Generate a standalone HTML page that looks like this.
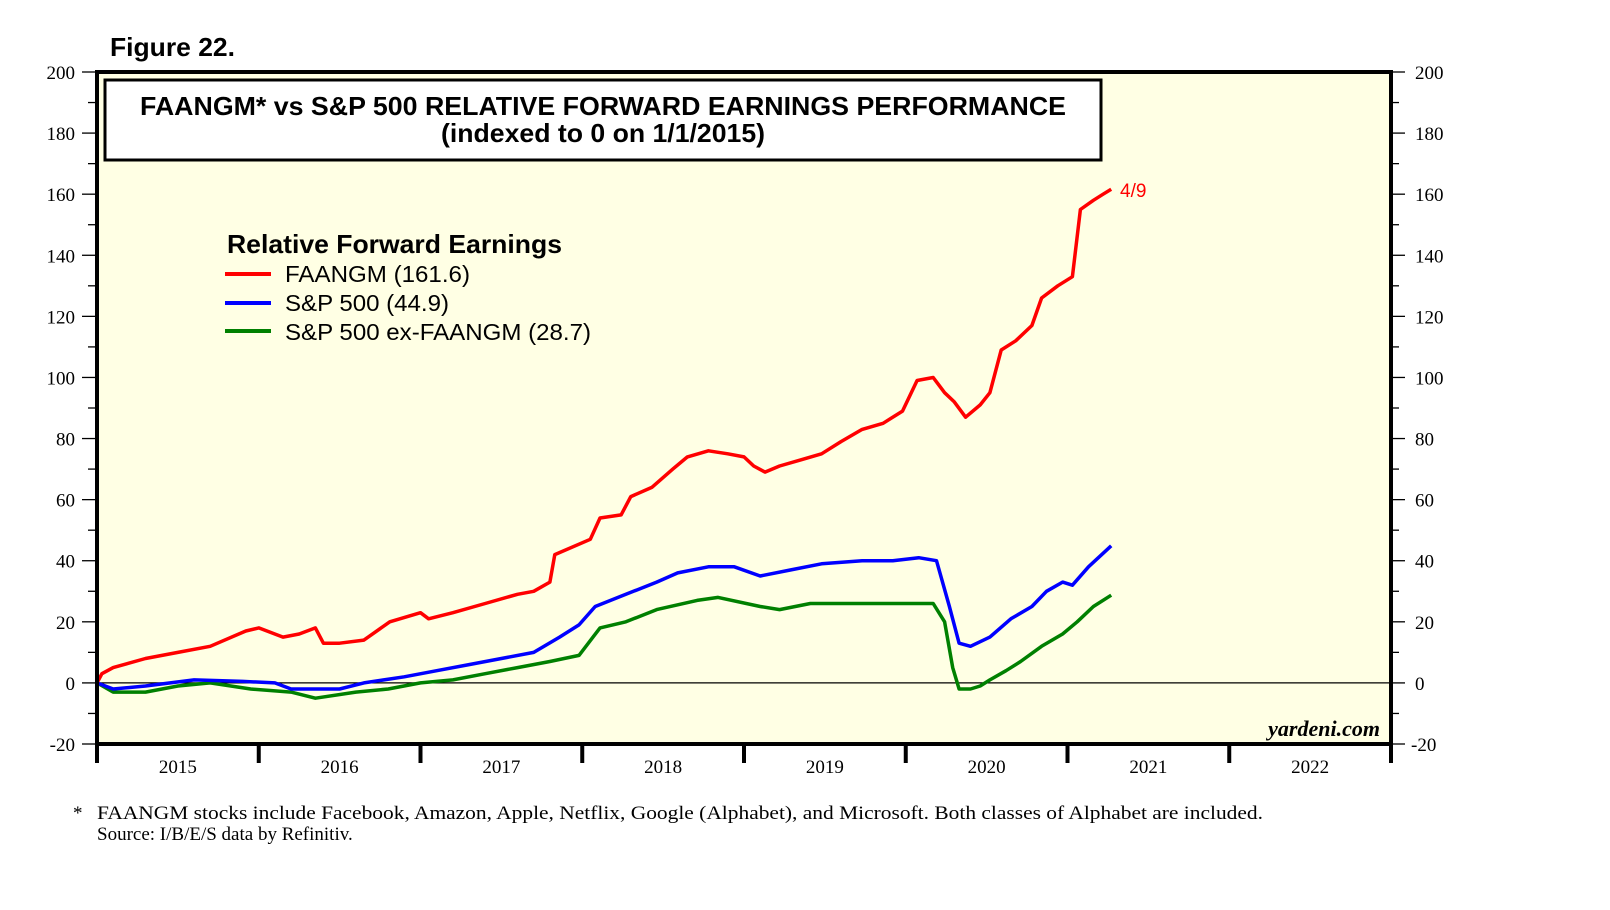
<!DOCTYPE html>
<html><head><meta charset="utf-8"><style>
html,body{margin:0;padding:0;background:#fff;}
svg{display:block;}
</style></head><body>
<svg width="1610" height="910" viewBox="0 0 1610 910" xmlns="http://www.w3.org/2000/svg">
<text x="110" y="56" font-family="Liberation Sans, sans-serif" font-weight="bold" font-size="26" textLength="125" lengthAdjust="spacingAndGlyphs">Figure 22.</text>
<rect x="97" y="72" width="1294" height="672" fill="#ffffe4"/>
<g id="grid"></g>
<line x1="97" x2="1391" id="zero" stroke="#000" stroke-width="1.3"/>
<g id="series"></g>
<rect x="97" y="72" width="1294" height="672" fill="none" stroke="#000" stroke-width="4"/>
<g id="axes"></g>
<rect x="105" y="80" width="996" height="80" fill="#fff" stroke="#000" stroke-width="3"/>
<text x="603" y="115" text-anchor="middle" font-family="Liberation Sans, sans-serif" font-weight="bold" font-size="26" textLength="926" lengthAdjust="spacingAndGlyphs">FAANGM* vs S&amp;P 500 RELATIVE FORWARD EARNINGS PERFORMANCE</text>
<text x="603" y="142" text-anchor="middle" font-family="Liberation Sans, sans-serif" font-weight="bold" font-size="26" textLength="324" lengthAdjust="spacingAndGlyphs">(indexed to 0 on 1/1/2015)</text>
<text x="227" y="253" font-family="Liberation Sans, sans-serif" font-weight="bold" font-size="26" textLength="335" lengthAdjust="spacingAndGlyphs">Relative Forward Earnings</text>
<g><line x1="225" x2="271" y1="274" y2="274" stroke="#ff0000" stroke-width="4"/><text x="285" y="282" font-family="Liberation Sans, sans-serif" font-size="23" textLength="185" lengthAdjust="spacingAndGlyphs">FAANGM (161.6)</text></g>
<g><line x1="225" x2="271" y1="303" y2="303" stroke="#0000ff" stroke-width="4"/><text x="285" y="311" font-family="Liberation Sans, sans-serif" font-size="23" textLength="164" lengthAdjust="spacingAndGlyphs">S&amp;P 500 (44.9)</text></g>
<g><line x1="225" x2="271" y1="331" y2="331" stroke="#008000" stroke-width="4"/><text x="285" y="340" font-family="Liberation Sans, sans-serif" font-size="23" textLength="306" lengthAdjust="spacingAndGlyphs">S&amp;P 500 ex-FAANGM (28.7)</text></g>
<text x="1120" y="197" fill="#ff0000" font-family="Liberation Sans, sans-serif" font-size="19">4/9</text>
<text x="1380" y="736" text-anchor="end" font-family="Liberation Serif, serif" font-style="italic" font-weight="bold" font-size="22">yardeni.com</text>
<text x="73" y="819" font-family="Liberation Serif, serif" font-size="19">*</text>
<text x="97" y="819" font-family="Liberation Serif, serif" font-size="19" textLength="1166" lengthAdjust="spacingAndGlyphs">FAANGM stocks include Facebook, Amazon, Apple, Netflix, Google (Alphabet), and Microsoft. Both classes of Alphabet are included.</text>
<text x="97" y="840" font-family="Liberation Serif, serif" font-size="19">Source: I/B/E/S data by Refinitiv.</text>
</svg>
<script>
const yTicks = [-20,0,20,40,60,80,100,120,140,160,180,200];
const years = [2015,2016,2017,2018,2019,2020,2021,2022];
const faangT = [0,0.03,0.1,0.3,0.5,0.7,0.92,1.0,1.15,1.25,1.35,1.4,1.5,1.65,1.81,2.0,2.05,2.2,2.4,2.6,2.7,2.8,2.83,3.05,3.11,3.24,3.30,3.43,3.56,3.65,3.78,3.90,4.0,4.06,4.13,4.22,4.35,4.48,4.6,4.73,4.86,4.98,5.07,5.17,5.24,5.30,5.37,5.46,5.52,5.59,5.68,5.78,5.84,5.94,6.03,6.08,6.16,6.22,6.27];
const faangV = [0,3,5,8,10,12,17,18,15,16,18,13,13,14,20,23,21,23,26,29,30,33,42,47,54,55,61,64,70,74,76,75,74,71,69,71,73,75,79,83,85,89,99,100,95,92,87,91,95,109,112,117,126,130,133,155,158,160,161.6];
const spT = [0,0.1,0.3,0.6,0.9,1.1,1.2,1.5,1.65,1.9,2.1,2.3,2.5,2.7,2.86,2.98,3.08,3.27,3.46,3.59,3.78,3.94,4.1,4.29,4.48,4.73,4.92,5.08,5.19,5.27,5.33,5.40,5.52,5.65,5.78,5.87,5.97,6.03,6.13,6.27];
const spV = [0,-2,-1,1,0.5,0,-2,-2,0,2,4,6,8,10,15,19,25,29,33,36,38,38,35,37,39,40,40,41,40,25,13,12,15,21,25,30,33,32,38,44.9];
const exT = [0,0.1,0.3,0.5,0.7,0.95,1.2,1.35,1.6,1.8,2.0,2.2,2.4,2.6,2.8,2.98,3.11,3.27,3.46,3.71,3.84,4.1,4.22,4.41,4.79,5.17,5.24,5.29,5.33,5.40,5.46,5.52,5.62,5.71,5.84,5.97,6.06,6.16,6.27];
const exV = [0,-3,-3,-1,0,-2,-3,-5,-3,-2,0,1,3,5,7,9,18,20,24,27,28,25,24,26,26,26,20,5,-2,-2,-1,1,4,7,12,16,20,25,28.7];

const L=97,R=1391,T=72,B=744;
const xs = t => L + t*(R-L)/8;
const ys = v => B - (v+20)*(B-T)/220;
const NS='http://www.w3.org/2000/svg';
function mk(tag,attrs,parent){const e=document.createElementNS(NS,tag);for(const k in attrs)e.setAttribute(k,attrs[k]);parent.appendChild(e);return e;}
const axes=document.getElementById('axes');
const z=document.getElementById('zero');
z.setAttribute('y1',ys(0));z.setAttribute('y2',ys(0));
for(let v=-20;v<=200;v+=10){
  const y=ys(v), major=v%20===0;
  const a=mk('line',{x1:major?82:88,x2:L,y1:y,y2:y,stroke:'#000','stroke-width':1.3},axes);
  
  
  const b=mk('line',{x1:R,x2:major?1405:1399,y1:y,y2:y,stroke:'#000','stroke-width':1.3},axes);
  
  
}
yTicks.forEach(v=>{
  const y=ys(v)+7;
  const t1=mk('text',{x:75,y:y,'text-anchor':'end','font-family':'Liberation Serif, serif','font-size':19},axes);
  t1.textContent=v;
  
  
  const t2=mk('text',{x:v<0?1411:1415,y:y,'font-family':'Liberation Serif, serif','font-size':19},axes);
  t2.textContent=v;
  
  
});
for(let i=0;i<=8;i++){
  const t=mk('line',{x1:xs(i),x2:xs(i),y1:B,y2:763,stroke:'#000','stroke-width':4},axes);
  
  
}
years.forEach((yr,i)=>{
  const t=mk('text',{x:xs(i+0.5),y:773,'text-anchor':'middle','font-family':'Liberation Serif, serif','font-size':19},axes);
  t.textContent=yr;
  
  
});
const ser=document.getElementById('series');
function line(T_,V,col,name){
  const d=T_.map((t,i)=>(i?'L':'M')+xs(t).toFixed(1)+','+ys(V[i]).toFixed(1)).join('');
  const p=mk('path',{d:d,fill:'none',stroke:col,'stroke-width':3.5,'stroke-linejoin':'round'},ser);
  
  
}
line(exT,exV,'#008000','series-sp500-ex-faangm');
line(spT,spV,'#0000ff','series-sp500');
line(faangT,faangV,'#ff0000','series-faangm');
</script>
</body></html>
